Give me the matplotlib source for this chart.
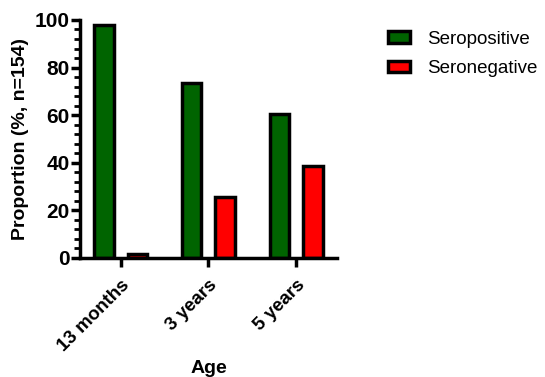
import numpy as np
import matplotlib.pyplot as plt
from matplotlib.ticker import MultipleLocator

plt.rcParams['font.family'] = ['Liberation Sans', 'DejaVu Sans']

ages = ["13 months", "3 years", "5 years"]
seropositive = [98.0, 73.5, 60.5]
seronegative = [1.5, 25.5, 38.5]

fig = plt.figure(figsize=(5.45, 3.77), dpi=100)
ax = fig.add_axes([0.147, 0.316, 0.471, 0.631])

x = np.arange(len(ages))
w = 0.22
ax.bar(x - 0.19, seropositive, w, color="#006400", edgecolor="black", linewidth=2.5, label="Seropositive")
ax.bar(x + 0.19, seronegative, w, color="#ff0000", edgecolor="black", linewidth=2.5, label="Seronegative")

ax.set_xlim(-0.46, 2.46)
ax.set_ylim(0, 100)
ax.set_xticks(x)
ax.set_xticklabels(ages, rotation=45, ha="right", rotation_mode="anchor", fontsize=13.5, fontweight="bold")
ax.yaxis.set_major_locator(MultipleLocator(20))
ax.yaxis.set_minor_locator(MultipleLocator(4))
for lab in ax.get_yticklabels():
    lab.set_fontweight("bold")
    lab.set_fontsize(15)

for s in ["top", "right"]:
    ax.spines[s].set_visible(False)
for s in ["left", "bottom"]:
    ax.spines[s].set_linewidth(2.5)
ax.tick_params(axis="both", which="major", width=2.5, length=6.5)
ax.tick_params(axis="y", which="major", pad=1)
ax.tick_params(axis="x", which="major", pad=7)
ax.tick_params(axis="y", which="minor", width=2, length=4)

ax.set_ylabel("Proportion (%, n=154)", fontsize=14, fontweight="bold")
ax.yaxis.set_label_coords(-0.2, 0.5)
ax.set_xlabel("Age", fontsize=14, fontweight="bold")
ax.xaxis.set_label_coords(0.5, -0.43)

ax.legend(loc="upper left", bbox_to_anchor=(1.198, 0.955), frameon=False, fontsize=13.5,
          borderaxespad=0, borderpad=0,
          handlelength=1.2, handleheight=0.55, handletextpad=0.9, labelspacing=0.68)

fig.savefig("out.png", dpi=100)
